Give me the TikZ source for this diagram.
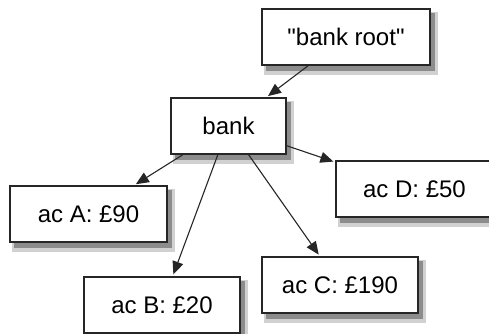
\documentclass[tikz,border=0pt]{standalone}
\usepackage{fontspec}
\setmainfont{Liberation Sans}[Ligatures=TeXOff]
\usetikzlibrary{arrows.meta}
\begin{document}
\begin{tikzpicture}[x=1pt,y=1pt,
  box/.style={draw=black!85, line width=1.4pt, fill=white, inner sep=0pt,
    font=\fontsize{24}{28}\selectfont},
  halo/.style={fill=black!18},
  core/.style={fill=black!45},
  link/.style={draw=black!85, line width=1.1pt, shorten >=2pt,
    -{Triangle[length=13pt,width=11pt]}}]
\useasboundingbox (0,0) rectangle (489,-333);
\foreach \w/\x/\y in {168/346/-37, 115/228.5/-126, 157/88.5/-214, 156/162/-305, 156/340/-285, 157/414.5/-189}{
  \fill[halo] (\x-\w/2+2,\y+28-3) rectangle (\x+\w/2+8,\y-28-10);
  \fill[core] (\x-\w/2+4,\y+28-4) rectangle (\x+\w/2+5,\y-28-6);
}
\node[box, minimum width=168pt, minimum height=56pt] (root) at (346,-37) {"bank root"};
\node[box, minimum width=115pt, minimum height=56pt] (bank) at (228.5,-126) {bank};
\node[box, minimum width=157pt, minimum height=56pt] (a) at (88.5,-214) {ac A: £90};
\node[box, minimum width=156pt, minimum height=56pt] (b) at (162,-305) {ac B: £20};
\node[box, minimum width=156pt, minimum height=56pt] (c) at (340,-285) {ac C: £190};
\node[box, minimum width=157pt, minimum height=56pt] (d) at (414.5,-189) {ac D: £50};
\draw[link] (root) -- (bank);
\draw[link] (bank) -- (a);
\draw[link] (bank) -- (b);
\draw[link] (bank) -- (c);
\draw[link] (bank) -- (d);
\end{tikzpicture}
\end{document}
